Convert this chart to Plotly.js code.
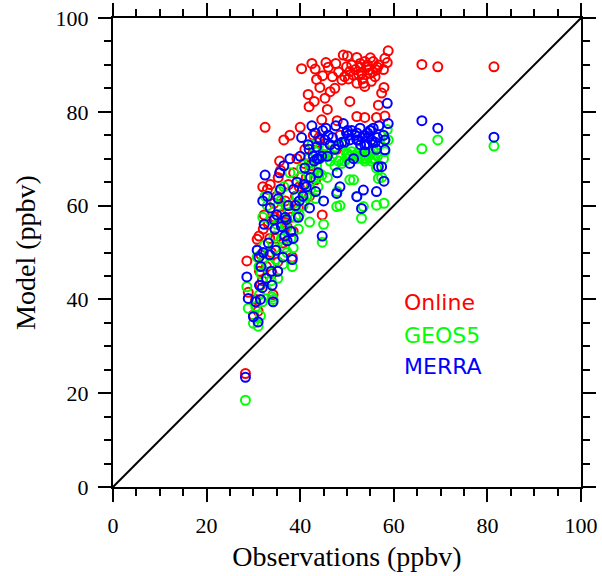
<!DOCTYPE html>
<html>
<head>
<meta charset="utf-8">
<script src="https://cdn.plot.ly/plotly-3.0.1.min.js"></script>
<style>html,body{margin:0;padding:0;background:#fff;}#chart{width:602px;height:576px;}</style>
</head>
<body>
<div id="chart"></div>
<script>
// Observations (ppbv), shared by the three model runs
var observations = [28.3,28.6,28.9,30.0,31.0,30.8,31.3,31.6,31.9,32.1,32.3,32.0,32.5,33.0,33.5,33.8,34.0,34.2,34.6,35.0,
  35.3,35.6,35.2,34.8,36.0,36.3,36.5,36.8,37.2,37.5,37.8,38.0,38.3,38.6,39.0,39.3,39.6,40.0,40.3,40.6,
  41.0,41.3,41.7,41.9,42.2,42.5,42.8,43.0,43.2,43.5,43.8,44.2,44.6,44.8,45.0,44.7,45.3,45.5,46.0,46.4,
  46.9,47.4,47.6,47.9,47.8,48.5,48.9,49.2,49.9,50.1,50.6,50.6,51.4,52.1,52.1,52.1,52.8,53.1,53.5,53.8,
  53.8,53.8,54.6,54.9,55.6,56.0,56.3,56.3,56.7,57.4,57.9,58.1,58.1,58.6,58.8,66.0,69.4,81.4,
  30.5,31.5,32.8,33.2,34.4,36.7,37.0,38.5,39.8,40.9,42.0,43.3,44.0,45.8,49.5,51.0,52.5,54.2,55.2,55.0,56.8,57.8,
  31.2,33.6,35.8,43.6,48.2,51.8,53.3,54.4,55.5,56.5,50.3,52.9];
var online = [24.2,48.2,41.5,36.7,37.5,52.8,46.0,49.5,44.0,55.0,58.0,64.0,76.7,63.5,53.0,50.0,45.5,41.0,57.5,62.0,
  66.0,69.5,48.0,53.0,58.0,52.0,74.0,61.0,55.5,64.5,75.0,57.5,49.0,67.0,62.0,70.0,59.5,76.7,89.2,64.5,
  72.0,66.0,83.7,81.1,68.5,90.3,75.0,82.2,89.1,86.9,70.0,85.2,78.3,87.7,72.5,58.0,82.9,90.5,89.5,84.3,
  87.5,85.0,90.3,78.1,72.0,75.0,86.8,92.1,89.6,91.9,88.6,82.2,87.8,91.6,86.1,79.0,90.3,88.2,86.1,90.7,
  85.4,78.8,88.9,88.2,90.7,87.5,88.9,78.8,81.4,84.0,85.2,91.4,79.1,90.5,93.0,90.1,89.6,89.6,
  40.0,43.0,47.0,56.0,60.5,56.5,60.0,54.5,64.0,69.0,62.0,65.5,74.5,80.5,87.5,90.0,88.0,89.5,86.5,91.5,90.0,89.0,
  53.5,64.5,67.5,73.5,88.5,89.0,87.0,90.0,88.5,89.5,87.0,89.5];
var geos5 = [18.5,42.7,38.1,34.9,34.3,49.0,41.0,45.5,39.5,48.5,51.5,57.5,62.0,60.0,47.5,44.0,40.5,40.0,51.0,56.0,
  60.0,63.0,44.5,48.5,53.0,47.5,64.0,56.0,50.0,58.5,67.0,53.0,47.0,60.5,57.5,62.0,55.0,66.0,68.0,60.0,
  64.5,62.0,70.0,69.0,63.5,73.0,67.5,66.0,71.5,68.5,64.0,70.0,66.5,71.0,56.0,52.2,70.5,72.0,71.0,69.5,
  70.5,68.5,72.5,63.0,59.8,60.0,69.0,73.0,71.0,70.0,70.5,65.5,65.5,71.0,70.0,62.0,72.0,57.3,59.8,71.0,
  69.5,70.0,70.5,71.5,72.0,70.0,60.1,68.0,65.8,66.0,60.5,71.5,74.0,76.2,74.0,72.1,74.0,72.7,
  38.5,36.5,42.0,49.5,53.5,51.0,55.0,51.0,58.0,61.0,56.5,61.5,67.0,66.0,69.5,71.5,70.5,70.0,69.5,71.0,73.0,70.0,
  47.0,57.0,61.0,66.5,69.5,70.5,70.0,70.5,70.0,70.5,71.0,70.5];
var merra = [23.4,44.8,40.2,36.3,35.2,50.5,43.0,47.0,42.5,50.0,56.0,61.0,66.5,62.0,49.5,46.0,43.0,39.5,55.0,58.0,
  61.5,67.0,46.0,50.5,55.5,49.0,68.5,57.5,52.5,60.0,70.0,54.5,48.5,63.5,60.0,65.0,57.5,70.5,74.5,62.0,
  68.0,64.0,73.0,72.0,66.0,77.0,70.5,69.5,75.5,72.5,67.0,74.0,70.5,76.0,61.0,53.5,74.0,76.5,75.0,73.0,
  74.5,72.0,77.0,67.0,62.6,64.0,73.5,77.5,75.5,76.0,74.0,69.0,70.0,75.5,74.0,61.9,76.5,59.4,63.3,75.0,
  73.0,71.5,74.5,76.0,76.5,73.5,63.0,72.0,68.3,68.3,65.2,71.9,74.0,81.8,77.5,78.1,76.5,74.6,
  39.5,40.0,44.5,52.0,57.0,53.5,57.0,53.0,61.0,64.5,59.5,63.0,70.0,70.5,73.5,76.0,74.0,73.0,74.0,76.0,77.0,75.0,
  49.0,59.5,63.5,70.0,73.0,75.0,74.5,75.5,73.5,74.5,75.0,73.0];
var seriesNames = ["Online", "GEOS5", "MERRA"];
var seriesColors = ["#ff0000", "#00ff00", "#0000ff"];
var oneToOne = [0, 100];
var tickVals = [0, 20, 40, 60, 80, 100];

var modelSeries = [online, geos5, merra];
var traces = [{
  x: oneToOne, y: oneToOne, mode: "lines", type: "scatter",
  line: {color: "#000", width: 2}, hoverinfo: "skip", showlegend: false
}];
for (var i = 0; i < 3; i++) {
  traces.push({
    x: observations, y: modelSeries[i], name: seriesNames[i], type: "scatter", mode: "markers",
    marker: {symbol: "circle-open", size: 9, color: seriesColors[i], line: {width: 2, color: seriesColors[i]}},
    showlegend: false
  });
}
var labelY = [39.4, 32.4, 25.7];
var annotations = seriesNames.map(function (n, i) {
  return {x: 61.7, y: labelY[i], xref: "x", yref: "y", text: n, showarrow: false, xanchor: "left", yanchor: "middle",
    font: {family: "DejaVu Sans", size: 22, color: seriesColors[i]}};
});
function axis(title) {
  return {
    range: [0, 100], tickvals: tickVals, ticktext: tickVals.map(String),
    ticks: "outside", ticklen: 13, tickwidth: 2, tickcolor: "#000", ticklabelstandoff: 5,
    minor: {dtick: 5, tick0: 0, ticks: "outside", ticklen: 7, tickwidth: 2, tickcolor: "#000", showgrid: false},
    showline: true, linewidth: 2, linecolor: "#000", mirror: "allticks",
    showgrid: false, zeroline: false,
    tickfont: {family: "Liberation Serif", size: 22, color: "#000"},
    title: {text: title, font: {family: "Liberation Serif", size: 28, color: "#000"}}
  };
}
var xa = axis("Observations (ppbv)"); xa.title.standoff = 9;
var ya = axis("Model (ppbv)"); ya.title.standoff = 12;
var layout = {
  width: 602, height: 576,
  margin: {l: 113, r: 21, t: 18, b: 89},
  paper_bgcolor: "#fff", plot_bgcolor: "#fff",
  xaxis: xa, yaxis: ya,
  annotations: annotations, showlegend: false
};
Plotly.newPlot("chart", traces, layout, {displayModeBar: false, staticPlot: true});
</script>
</body>
</html>
